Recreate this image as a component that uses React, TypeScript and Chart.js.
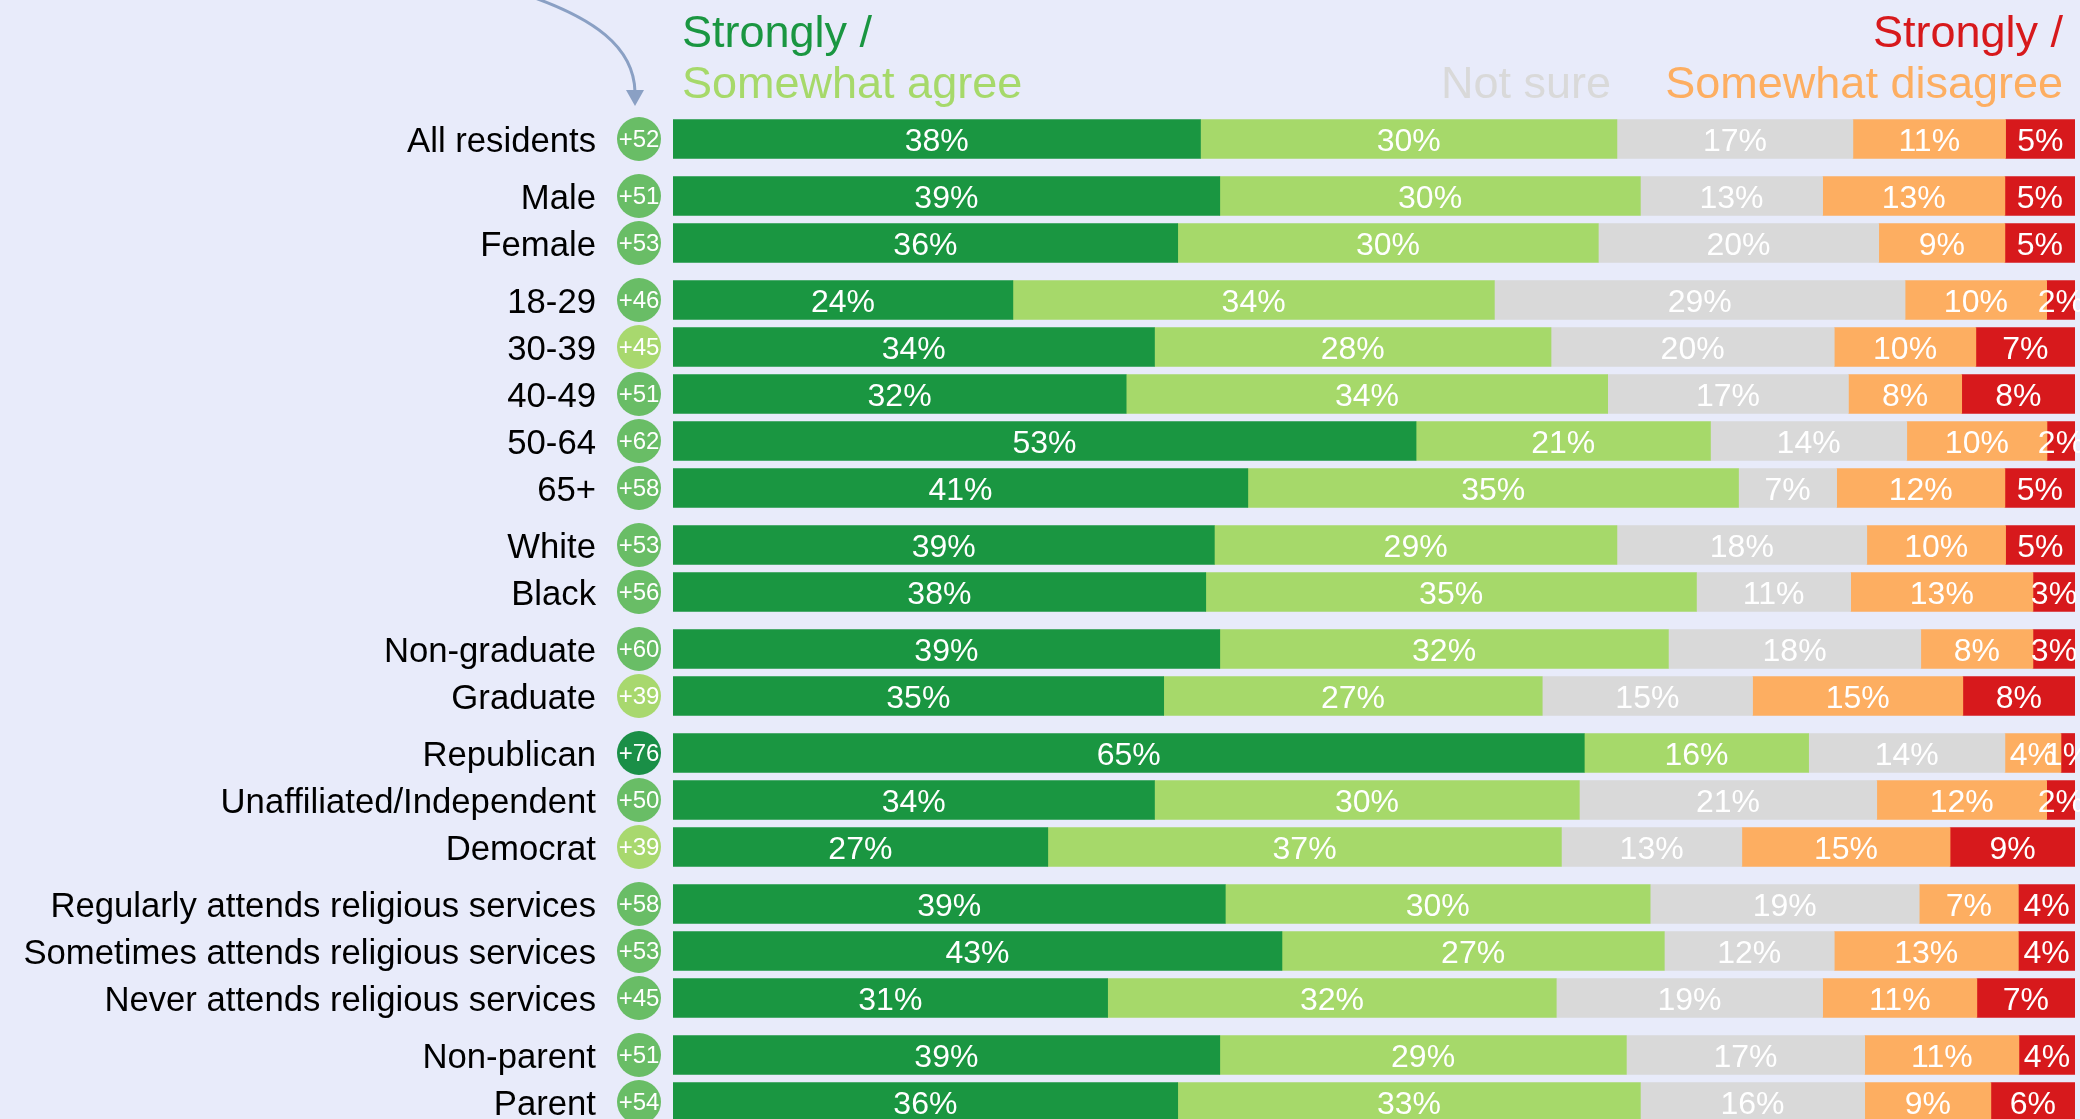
import React, { useEffect, useRef } from "react";
import { Chart, registerables } from "chart.js";

Chart.register(...registerables);

// ---------- data ----------
const groups: string[][] = [
  ["All residents"],
  ["Male", "Female"],
  ["18-29", "30-39", "40-49", "50-64", "65+"],
  ["White", "Black"],
  ["Non-graduate", "Graduate"],
  ["Republican", "Unaffiliated/Independent", "Democrat"],
  [
    "Regularly attends religious services",
    "Sometimes attends religious services",
    "Never attends religious services",
  ],
  ["Non-parent", "Parent"],
];
const categories: string[] = groups.flat();

const stronglyAgree = [38, 39, 36, 24, 34, 32, 53, 41, 39, 38, 39, 35, 65, 34, 27, 39, 43, 31, 39, 36];
const somewhatAgree = [30, 30, 30, 34, 28, 34, 21, 35, 29, 35, 32, 27, 16, 30, 37, 30, 27, 32, 29, 33];
const notSure = [17, 13, 20, 29, 20, 17, 14, 7, 18, 11, 18, 15, 14, 21, 13, 19, 12, 19, 17, 16];
const somewhatDisagree = [11, 13, 9, 10, 10, 8, 10, 12, 10, 13, 8, 15, 4, 12, 15, 7, 13, 11, 11, 9];
const stronglyDisagree = [5, 5, 5, 2, 7, 8, 2, 5, 5, 3, 3, 8, 1, 2, 9, 4, 4, 7, 4, 6];

const netScores = [52, 51, 53, 46, 45, 51, 62, 58, 53, 56, 60, 39, 76, 50, 39, 58, 53, 45, 51, 54];
// 0 = light, 1 = medium, 2 = dark (circle shade)
const netTier = [1, 1, 1, 1, 0, 1, 1, 1, 1, 1, 1, 0, 2, 1, 0, 1, 1, 1, 1, 1];

const seriesNames = ["Strongly agree", "Somewhat agree", "Not sure", "Somewhat disagree", "Strongly disagree"];
const series = [stronglyAgree, somewhatAgree, notSure, somewhatDisagree, stronglyDisagree];

// ---------- style ----------
const COLORS = ["#1a9641", "#a6d96a", "#d9d9d9", "#fdae61", "#d7191c"];
const TIER_COLORS = ["#a8d86e", "#69bd66", "#1a8f47"];
const BG = "#e8ebfa";
const FONT = "'Liberation Sans', Arial, Helvetica, sans-serif";
const W = 2080;
const H = 1119;
const ROW_PX = 47;
const GROUP_GAP = 10 / 47;
const TOP_PAD = 92;

// row positions on the index axis (groups separated by a small gap)
const positions: number[] = [];
{
  let p = 0;
  groups.forEach((g) => {
    g.forEach(() => {
      positions.push(p);
      p += 1;
    });
    p += GROUP_GAP;
  });
}

const totals = categories.map((_, i) => series.reduce((s, arr) => s + arr[i], 0));

const overlayPlugin = {
  id: "overlay",
  afterDatasetsDraw(chart: any) {
    const ctx = chart.ctx as CanvasRenderingContext2D;
    ctx.save();
    ctx.textBaseline = "alphabetic";

    // percentage labels inside bars
    ctx.font = `32px ${FONT}`;
    ctx.fillStyle = "#ffffff";
    ctx.textAlign = "center";
    chart.data.datasets.forEach((_ds: any, di: number) => {
      const meta = chart.getDatasetMeta(di);
      meta.data.forEach((el: any, i: number) => {
        const { x, base, y } = el.getProps(["x", "base", "y"], true);
        ctx.fillText(series[di][i] + "%", (x + base) / 2, y + 12);
      });
    });

    // row labels and net circles
    const ys = chart.scales.y;
    categories.forEach((c, i) => {
      const yy = ys.getPixelForValue(positions[i]);
      ctx.font = `34.7px ${FONT}`;
      ctx.fillStyle = "#000000";
      ctx.textAlign = "right";
      ctx.fillText(c, 596, yy + 13);

      ctx.beginPath();
      ctx.arc(639, yy, 22, 0, Math.PI * 2);
      ctx.fillStyle = TIER_COLORS[netTier[i]];
      ctx.fill();
      ctx.font = `24px ${FONT}`;
      ctx.fillStyle = "#ffffff";
      ctx.textAlign = "center";
      ctx.fillText((netScores[i] >= 0 ? "+" : "") + netScores[i], 639, yy + 8);
    });

    // header titles
    ctx.font = `45px ${FONT}`;
    ctx.textAlign = "left";
    ctx.fillStyle = COLORS[0];
    ctx.fillText("Strongly /", 682, 47);
    ctx.fillStyle = COLORS[1];
    ctx.fillText("Somewhat agree", 682, 98);
    ctx.textAlign = "right";
    ctx.fillStyle = COLORS[2];
    ctx.fillText("Not sure", 1611, 98);
    ctx.fillStyle = COLORS[4];
    ctx.fillText("Strongly /", 2063, 47);
    ctx.fillStyle = COLORS[3];
    ctx.fillText("Somewhat disagree", 2063, 98);

    // curved arrow
    ctx.strokeStyle = "#8aa0c4";
    ctx.fillStyle = "#8aa0c4";
    ctx.lineWidth = 3;
    ctx.beginPath();
    ctx.moveTo(535, -2);
    ctx.bezierCurveTo(590, 18, 634, 45, 635, 92);
    ctx.stroke();
    ctx.beginPath();
    ctx.moveTo(635, 106);
    ctx.lineTo(626, 90);
    ctx.lineTo(644, 90);
    ctx.closePath();
    ctx.fill();

    ctx.restore();
  },
};

export default function App() {
  const ref = useRef<HTMLCanvasElement | null>(null);

  useEffect(() => {
    if (!ref.current) return;
    const chart = new Chart(ref.current, {
      type: "bar",
      data: {
        datasets: series.map((arr, di) => ({
          label: seriesNames[di],
          data: arr.map((v, i) => ({ x: (v / totals[i]) * 100, y: positions[i] })),
          backgroundColor: COLORS[di],
          borderWidth: 0,
          barThickness: 39,
        })),
      },
      options: {
        indexAxis: "y",
        animation: false,
        responsive: false,
        devicePixelRatio: 1,
        layout: { padding: { left: 673, right: 5, top: TOP_PAD, bottom: 0 } },
        plugins: { legend: { display: false }, tooltip: { enabled: false } },
        scales: {
          x: { type: "linear", stacked: true, min: 0, max: 100, display: false, offset: false },
          y: {
            type: "linear",
            stacked: true,
            reverse: true,
            offset: false,
            min: -1,
            max: -1 + (H - TOP_PAD) / ROW_PX,
            display: false,
          },
        },
      } as any,
      plugins: [overlayPlugin],
    });
    return () => chart.destroy();
  }, []);

  return (
    <div
      style={{
        position: "fixed",
        left: 0,
        top: 0,
        width: W,
        height: H,
        background: BG,
        overflow: "hidden",
      }}
    >
      <canvas ref={ref} width={W} height={H} style={{ display: "block", width: W, height: H }} />
    </div>
  );
}
